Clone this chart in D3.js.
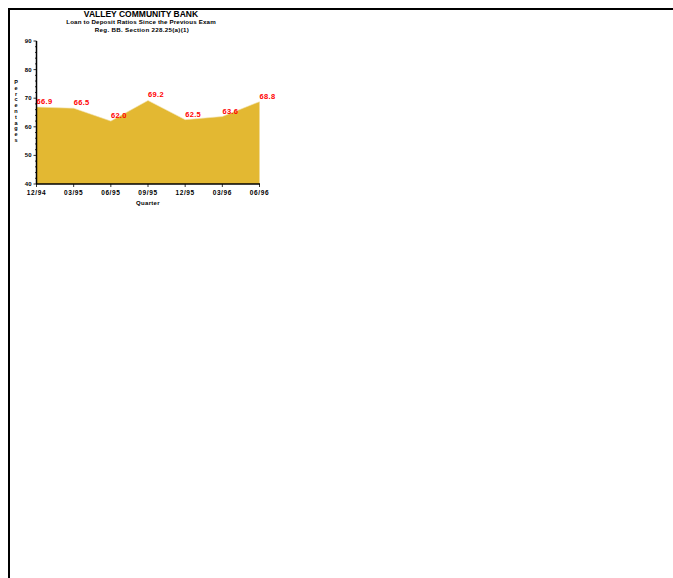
<!DOCTYPE html>
<html><head><meta charset="utf-8">
<script src="https://cdn.jsdelivr.net/npm/d3@7"></script>
<style>body{margin:0;background:#fff}svg{display:block}text{font-family:"Liberation Sans",Arial,sans-serif;font-weight:bold}</style>
</head><body>
<svg id="c" width="673" height="578"></svg>
<script>
const quarters = ["12/94","03/95","06/95","09/95","12/95","03/96","06/96"];
const ratios = [66.9, 66.5, 62.0, 69.2, 62.5, 63.6, 68.8];
const yTicks = [40, 50, 60, 70, 80, 90];
const titles = ["VALLEY COMMUNITY BANK","Loan to Deposit Ratios Since the Previous Exam","Reg. BB. Section 228.25(a)(1)"];

const svg = d3.select("#c");
// frame
svg.append("line").attr("x1",9).attr("x2",673).attr("y1",9).attr("y2",9).attr("stroke","#000").attr("stroke-width",2);
svg.append("line").attr("x1",9).attr("x2",9).attr("y1",8).attr("y2",578).attr("stroke","#000").attr("stroke-width",2);

const x = d3.scalePoint().domain(quarters).range([36.5, 259.5]);
const y = d3.scaleLinear().domain([40, 90]).range([184, 41]);

const area = d3.area().x((d,i)=>x(quarters[i])).y0(y(40)).y1(d=>y(d));
svg.append("path").datum(ratios).attr("d",area).attr("fill","#e3b832");
svg.append("path").datum(ratios).attr("d",d3.line().x((d,i)=>x(quarters[i])).y(d=>y(d))).attr("fill","none").attr("stroke","#f2e3b0").attr("stroke-width",0.6);

// y axis
const ya = svg.append("g").attr("transform","translate(36.5,0)");
ya.append("line").attr("y1",y(90)).attr("y2",y(40)).attr("stroke","#000").attr("stroke-width",1.5);
d3.range(40, 90.1, 2).forEach(v=>{
  ya.append("line").attr("x1",v%10===0?-3:-1.5).attr("x2",0).attr("y1",y(v)).attr("y2",y(v)).attr("stroke","#000").attr("stroke-width",0.8);
});
ya.selectAll("text.t").data(yTicks).join("text").attr("x",-5).attr("y",d=>y(d)+2).attr("text-anchor","end").attr("font-size",6).text(d=>d);

// x axis
const xa = svg.append("g").attr("transform",`translate(0,${y(40)})`);
xa.append("line").attr("x1",36).attr("x2",260).attr("stroke","#000").attr("stroke-width",1.5);
xa.selectAll("line.t").data(quarters).join("line").attr("x1",d=>x(d)).attr("x2",d=>x(d)).attr("y1",0).attr("y2",3).attr("stroke","#000").attr("stroke-width",0.8);
xa.selectAll("text").data(quarters).join("text").attr("x",d=>x(d)).attr("y",11).attr("text-anchor","middle").attr("font-size",6.5).attr("letter-spacing",0.6).text(d=>d);

svg.append("text").attr("x",148).attr("y",205).attr("text-anchor","middle").attr("font-size",6).attr("letter-spacing",0.3).text("Quarter");

// y label stacked letters
"Percentages".split("").forEach((ch,i)=>{
  svg.append("text").attr("x",16).attr("y",84+i*5.8).attr("text-anchor","middle").attr("font-size",5.5).text(ch);
});

// labels
svg.selectAll("text.v").data(ratios).join("text").attr("class","v")
  .attr("x",(d,i)=>x(quarters[i])+8).attr("y",d=>y(d)-3).attr("text-anchor","middle")
  .attr("font-size",7.5).attr("letter-spacing",0.3).attr("fill","#ff0000").text(d=>d.toFixed(1));

// titles
svg.append("text").attr("x",141).attr("y",17).attr("text-anchor","middle").attr("font-size",8.5).attr("font-weight","900").text(titles[0]);
svg.append("text").attr("x",141).attr("y",24).attr("text-anchor","middle").attr("font-size",6.2).attr("letter-spacing",0.15).text(titles[1]);
svg.append("text").attr("x",142).attr("y",32).attr("text-anchor","middle").attr("font-size",6.2).attr("letter-spacing",0.3).text(titles[2]);
</script>
</body></html>
